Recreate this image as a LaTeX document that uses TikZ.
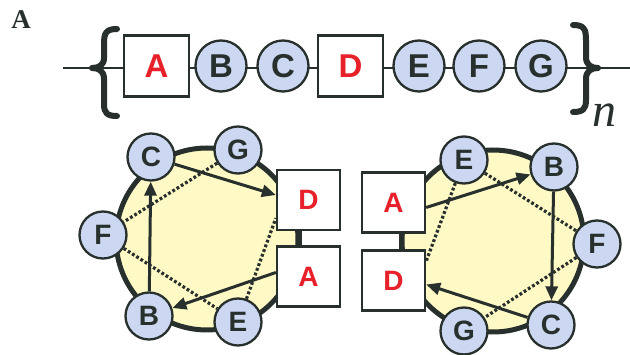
\documentclass[tikz,border=0pt]{standalone}
\usepackage{fontspec}
\newfontfamily\lsans{Liberation Sans}
\newfontfamily\lserif{Liberation Serif}
\usetikzlibrary{arrows.meta}
\definecolor{dk}{HTML}{27302C}
\definecolor{cblue}{HTML}{CCD7F2}
\definecolor{cyel}{HTML}{FFF9C6}
\definecolor{cred}{HTML}{E8202A}
\tikzset{
  res/.style={circle, draw=dk, line width=2.3pt, fill=cblue, inner sep=0pt, text=dk, font=\lsans\bfseries\fontsize{#1}{#1}\selectfont},
  topres/.style={res=33, minimum size=51pt},
  botres/.style={res=28, minimum size=47pt},
  rbox/.style={rectangle, draw=dk, line width=2.3pt, fill=white, inner sep=0pt, text=cred, font=\lsans\bfseries\fontsize{#1}{#1}\selectfont},
  topbox/.style={rbox=33, minimum width=65pt, minimum height=61pt},
  botbox/.style={rbox=28, minimum width=63pt, minimum height=60pt},
  brace/.style={draw=dk, line width=6pt, line cap=round, line join=round},
  ring/.style={draw=dk, line width=5pt, fill=cyel},
  arr/.style={draw=dk, line width=3pt, -{Triangle[length=14pt,width=12pt]}},
  dots/.style={draw=dk, line width=3.2pt, dash pattern=on 2.8pt off 2.2pt},
  link/.style={draw=dk, line width=2.3pt},
  thick link/.style={draw=dk, line width=5pt}
}
\begin{document}
\begin{tikzpicture}[x=1pt,y=-1pt]
\useasboundingbox (0,0) rectangle (630,355);
% label
\node[font=\lserif\bfseries\fontsize{27}{27}\selectfont, text=dk, inner sep=0pt] (lab) at (21,20) {A};
% top row
\coordinate (lstart) at (63,68);
\coordinate (rend) at (630,68);
\draw[link] (lstart) -- (rend);
\draw[brace] (117,29) .. controls (106,29) and (104,33) .. (104,44) -- (104,58) .. controls (104,65) and (99,68) .. (92,68) .. controls (99,68) and (104,71) .. (104,79) -- (104,104) .. controls (104,113) and (107,116) .. (117,116);
\draw[brace] (573,25) .. controls (584,25) and (586,29) .. (586,40) -- (586,57) .. controls (586,65) and (591,68) .. (598,68) .. controls (591,68) and (586,71) .. (586,79) -- (586,100) .. controls (586,109) and (583,112) .. (573,112);
\node[font=\lserif\itshape\fontsize{48}{48}\selectfont, text=dk, inner sep=0pt] (nn) at (604,115) {n};
\node[topbox] (tA) at (156.5,66) {A};
\node[topres] (tB) at (221,66) {B};
\node[topres] (tC) at (283,66) {C};
\node[topbox] (tD) at (350.5,66) {D};
\node[topres] (tE) at (419,66) {E};
\node[topres] (tF) at (479,66) {F};
\node[topres] (tG) at (541,66) {G};
% left helix
\draw[ring] (207,239) circle[radius=91];
\node[botres] (Cl) at (151,157) {C};
\node[botres] (Gl) at (238,150) {G};
\node[botres] (Fl) at (103,235) {F};
\node[botres] (Bl) at (149,316) {B};
\node[botres] (El) at (238,322) {E};
\node[botbox] (Dl) at (308.5,200) {D};
\node[botbox] (Al) at (308.5,276.5) {A};
\draw[thick link] ([xshift=-9pt]Dl.south) -- ([xshift=-9pt]Al.north);
\draw[dots] (Gl) -- (Fl);
\draw[dots] (Fl) -- (El);
\draw[dots] (El) -- ([yshift=13pt]Dl.south west);
\draw[arr] (Cl) -- ([yshift=5pt]Dl.west);
\draw[arr] (Bl) -- (Cl);
\draw[arr] ([yshift=4pt]Al.west) -- (Bl);
% right helix
\draw[ring] (493,241) circle[radius=91];
\node[botres] (Er) at (464,160) {E};
\node[botres] (Br) at (554,167) {B};
\node[botres] (Fr) at (597,244) {F};
\node[botres] (Cr) at (551,325) {C};
\node[botres] (Gr) at (464,331) {G};
\node[botbox] (Ar) at (393.5,202.5) {A};
\node[botbox] (Dr) at (393.5,280.5) {D};
\draw[thick link] ([xshift=8pt]Ar.south) -- ([xshift=8pt]Dr.north);
\draw[dots] (Er) -- (Fr);
\draw[dots] (Fr) -- (Gr);
\draw[dots] (Er) -- ([yshift=-12pt]Dr.north east);
\draw[arr] ([yshift=-5pt]Ar.east) -- (Br);
\draw[arr] (Br) -- (Cr);
\draw[arr] (Cr) -- ([yshift=-4pt]Dr.east);
\end{tikzpicture}
\end{document}
